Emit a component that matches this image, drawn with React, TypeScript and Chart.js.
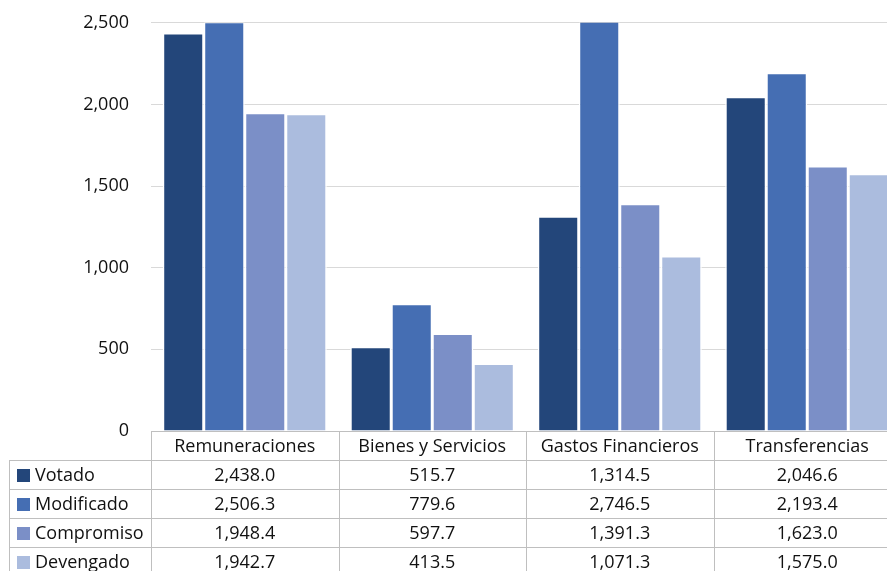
import React, { useEffect, useRef } from "react";
import { Chart, registerables } from "chart.js";

Chart.register(...registerables);

const categories = ["Remuneraciones", "Bienes y Servicios", "Gastos Financieros", "Transferencias"];
const seriesNames = ["Votado", "Modificado", "Compromiso", "Devengado"];
const votado = [2438.0, 515.7, 1314.5, 2046.6];
const modificado = [2506.3, 779.6, 2746.5, 2193.4];
const compromiso = [1948.4, 597.7, 1391.3, 1623.0];
const devengado = [1942.7, 413.5, 1071.3, 1575.0];
const colors = ["#23467A", "#456EB3", "#7B8FC7", "#ABBCDE"];
const yTicks = [0, 500, 1000, 1500, 2000, 2500];

const FONT = "'Open Sans', sans-serif";
const TEXT = "#111111";
const LINE = "#bfbfbf";

const fmt = (v: number) =>
  v.toLocaleString("en-US", { minimumFractionDigits: 1, maximumFractionDigits: 1 });

const tablePlugin = {
  id: "dataTable",
  afterDraw(chart: any) {
    const ctx = chart.ctx as CanvasRenderingContext2D;
    const area = chart.chartArea;
    const n = categories.length;
    const colW = (area.right - area.left) / n;
    const rowH = 29;
    const top = Math.round(area.bottom);
    const leftX = 9;
    const series = [votado, modificado, compromiso, devengado];
    const bottom = top + rowH * (series.length + 1);
    ctx.save();
    ctx.strokeStyle = LINE;
    ctx.lineWidth = 1;
    ctx.beginPath();
    ctx.moveTo(area.left, top + 0.5);
    ctx.lineTo(area.right, top + 0.5);
    for (let r = 1; r <= series.length + 1; r++) {
      const y = Math.round(top + r * rowH) + 0.5;
      ctx.moveTo(leftX, y);
      ctx.lineTo(area.right, y);
    }
    for (let c = 0; c <= n; c++) {
      const x = Math.round(area.left + c * colW) + 0.5;
      ctx.moveTo(x, top);
      ctx.lineTo(x, bottom);
    }
    ctx.moveTo(leftX + 0.5, top + rowH);
    ctx.lineTo(leftX + 0.5, bottom);
    ctx.stroke();

    ctx.fillStyle = TEXT;
    ctx.font = `500 18px ${FONT}`;
    ctx.textBaseline = "middle";
    ctx.textAlign = "center";
    for (let c = 0; c < n; c++) {
      const cx = chart.scales.x.getPixelForValue(c);
      ctx.fillText(categories[c], cx, top + rowH / 2 + 1);
      for (let s = 0; s < series.length; s++) {
        ctx.fillText(fmt(series[s][c]), cx, top + rowH * (s + 1) + rowH / 2 + 1);
      }
    }
    ctx.textAlign = "left";
    for (let s = 0; s < series.length; s++) {
      const yc = top + rowH * (s + 1) + rowH / 2;
      ctx.fillStyle = colors[s];
      ctx.fillRect(17, Math.round(yc - 6.5) + 1, 13, 13);
      ctx.fillStyle = TEXT;
      ctx.fillText(seriesNames[s], 35, yc + 1);
    }
    ctx.restore();
  },
};

export default function App() {
  const ref = useRef<HTMLCanvasElement | null>(null);
  useEffect(() => {
    if (!ref.current) return;
    const chart = new Chart(ref.current, {
      type: "bar",
      data: {
        labels: categories,
        datasets: [votado, modificado, compromiso, devengado].map((d, i) => ({
          label: seriesNames[i],
          data: d,
          backgroundColor: colors[i],
          borderColor: "#ffffff",
          borderWidth: 1.5,
          categoryPercentage: 0.875,
          barPercentage: 1,
        })),
      },
      options: {
        responsive: false,
        animation: false,
        devicePixelRatio: 1,
        layout: { padding: { top: 12, left: 0, right: 1, bottom: 146 } },
        plugins: { legend: { display: false }, tooltip: { enabled: false } },
        scales: {
          x: {
            grid: { display: false },
            border: { display: false },
            ticks: { display: false },
          },
          y: {
            min: 0,
            max: 2500,
            afterFit: (scale: any) => {
              scale.width = 151;
            },
            afterBuildTicks: (scale: any) => {
              scale.ticks = yTicks.map((v) => ({ value: v }));
            },
            grid: { color: "#d9d9d9", drawTicks: false, lineWidth: 1 },
            border: { display: false },
            ticks: {
              padding: 22,
              color: TEXT,
              font: { family: FONT, size: 18, weight: 500 },
              callback: (v: any) => Number(v).toLocaleString("en-US"),
            },
          },
        },
      },
      plugins: [tablePlugin],
    });
    return () => chart.destroy();
  }, []);
  return (
    <div
      style={{
        position: "fixed",
        left: 0,
        top: 0,
        width: 887,
        height: 571,
        overflow: "hidden",
        background: "#ffffff",
      }}
    >
      <canvas
        ref={ref}
        width={902}
        height={595}
        style={{ width: 902, height: 595, display: "block", marginTop: -10 }}
      />
    </div>
  );
}
